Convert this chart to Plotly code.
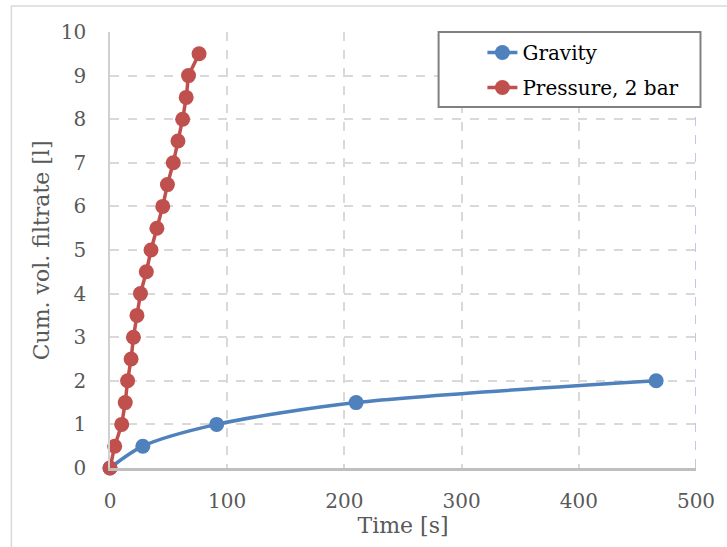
import plotly.graph_objects as go

# Cumulative filtrate volume vs time
gravity_time = [0, 28, 91, 210, 466]
gravity_vol = [0, 0.5, 1.0, 1.5, 2.0]

pressure_time = [0, 4, 10, 13, 15, 18, 20, 23, 26, 31, 35, 40, 45, 49, 54, 58, 62, 65, 67, 76]
pressure_vol = [0, 0.5, 1.0, 1.5, 2.0, 2.5, 3.0, 3.5, 4.0, 4.5, 5.0, 5.5, 6.0, 6.5, 7.0, 7.5, 8.0, 8.5, 9.0, 9.5]

x_ticks = [0, 100, 200, 300, 400, 500]
y_ticks = list(range(0, 11))

FONT = "DejaVu Serif"
BLUE = "#4f81bd"
RED = "#c0504d"
GRID = "#d9d9d9"

fig = go.Figure()
fig.add_trace(go.Scatter(
    x=gravity_time, y=gravity_vol, name="Gravity", mode="lines+markers",
    line=dict(color=BLUE, width=3.5, shape="spline", smoothing=0.8),
    marker=dict(color=BLUE, size=15), legendgroup="g", cliponaxis=False,
))
fig.add_trace(go.Scatter(
    x=pressure_time, y=pressure_vol, name="Pressure, 2 bar", mode="lines+markers",
    line=dict(color=RED, width=3.5),
    marker=dict(color=RED, size=15), legendgroup="p", cliponaxis=False,
))

W, H = 727, 547
L, R, T, B = 110, 28.5, 32, 78.7
pw, ph = W - L - R, H - T - B

def px_x(p):
    return (p - L) / pw

def px_y(p):
    return (H - B - p) / ph

shapes = [
    # outer chart frame
    dict(type="rect", xref="paper", yref="paper",
         x0=px_x(11), x1=px_x(740), y0=px_y(560), y1=px_y(6),
         line=dict(color="#d9d9d9", width=1.5), layer="below"),
    # right edge of plot area
    dict(type="line", xref="x", yref="paper", x0=500, x1=500, y0=0, y1=1,
         line=dict(color="#b8cce4", width=2, dash="dash"), layer="above"),
    # legend frame
    dict(type="rect", xref="paper", yref="paper",
         x0=px_x(440), x1=px_x(703), y0=px_y(107), y1=px_y(32),
         line=dict(color="#808080", width=2), fillcolor="white", layer="above"),
]

annotations = [
    dict(text="Cum. vol. filtrate [l]", xref="paper", yref="paper",
         x=px_x(41), y=0.5, xanchor="center", yanchor="middle",
         textangle=-90, showarrow=False,
         font=dict(family=FONT, size=22, color="#595959")),
]

fig.update_layout(
    width=W, height=H,
    margin=dict(l=L, r=R, t=T, b=B),
    paper_bgcolor="white", plot_bgcolor="white",
    font=dict(family=FONT, size=20, color="#595959"),
    shapes=shapes,
    annotations=annotations,
    showlegend=True,
    legend=dict(
        x=px_x(484), y=px_y(33), xanchor="left", yanchor="top",
        borderwidth=0, bgcolor="rgba(0,0,0,0)",
        font=dict(family=FONT, size=20, color="black"),
        traceorder="grouped", tracegroupgap=6,
    ),
    xaxis=dict(
        range=[0, 500], tickvals=x_ticks, ticks="",
        showgrid=True, gridcolor=GRID, gridwidth=1.5, griddash="dash",
        showline=True, linecolor="#bfbfbf", linewidth=2.5,
        zeroline=False, ticklabelstandoff=13,
        title=dict(text="Time [s]", font=dict(family=FONT, size=22, color="#595959"), standoff=1),
    ),
    yaxis=dict(
        range=[0, 10], tickvals=y_ticks, ticks="",
        showgrid=True, gridcolor=GRID, gridwidth=1.5, griddash="dash",
        showline=True, linecolor="#d0d0d0", linewidth=1.5,
        zeroline=False, ticklabelstandoff=18,
    ),
)

fig.write_html("out.html")
